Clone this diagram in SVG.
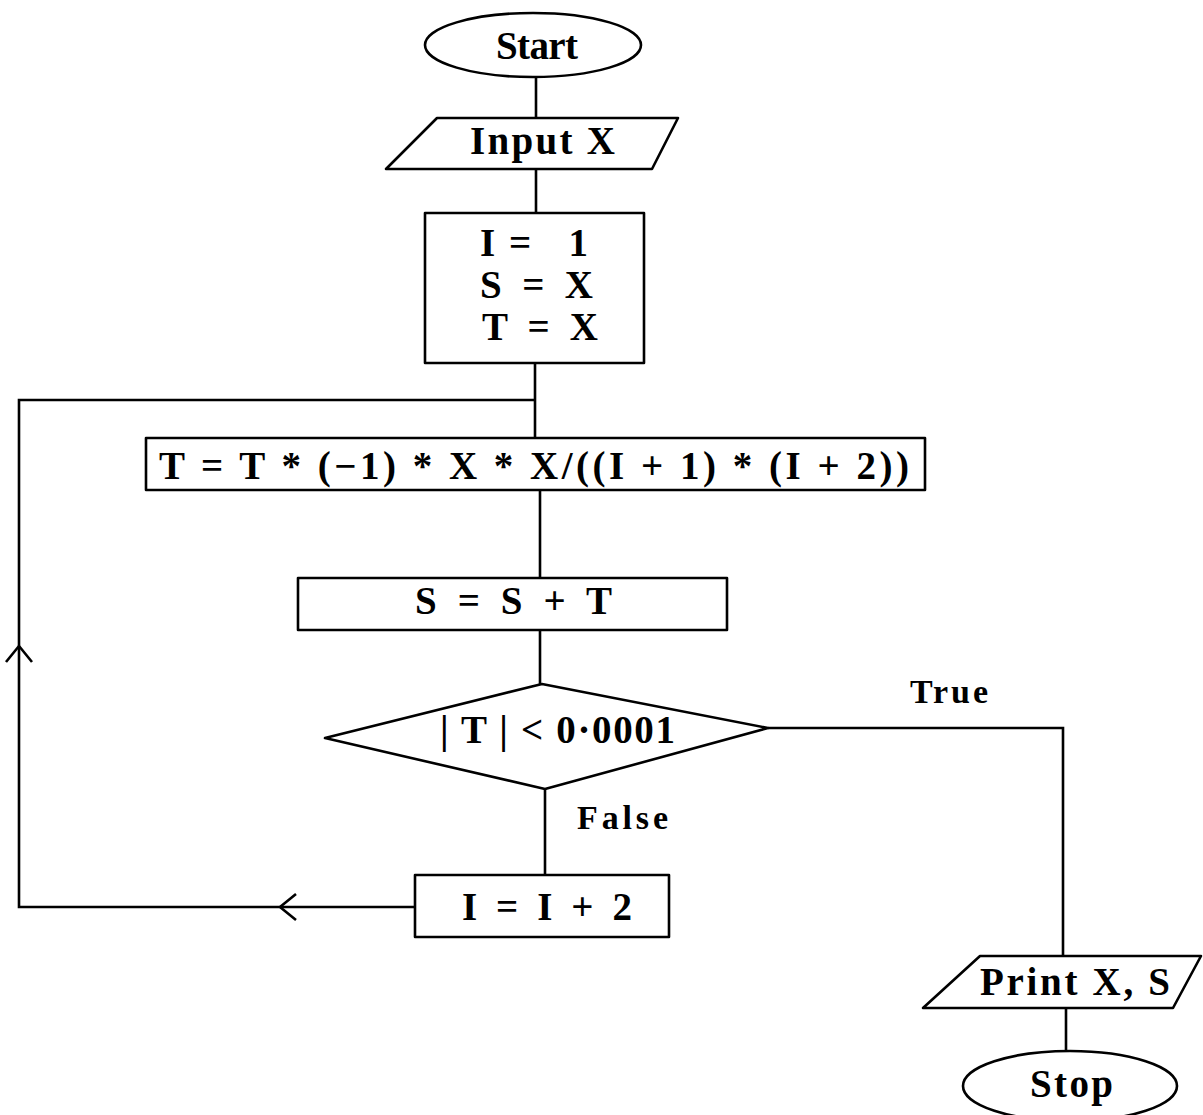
<svg xmlns="http://www.w3.org/2000/svg" width="1203" height="1115" viewBox="0 0 1203 1115">
<defs>
<style>
.s{fill:#fff;stroke:#000;stroke-width:2.6;stroke-linejoin:round}
.c{fill:none;stroke:#000;stroke-width:2.6}
.t{font-family:"Liberation Serif","Times New Roman",serif;font-weight:bold;font-size:39px;fill:#000}
.l{font-family:"Liberation Serif","Times New Roman",serif;font-weight:bold;font-size:34px;fill:#000}
</style>
<marker id="chev" markerUnits="userSpaceOnUse" markerWidth="20" markerHeight="28" refX="16" refY="13" orient="auto" overflow="visible">
<path d="M0,0 L16,13 L0,26" fill="none" stroke="#000" stroke-width="2.6"/>
</marker>
</defs>
<rect width="1203" height="1115" fill="#fff"/>
<g id="connectors">
<path class="c" d="M536,78 V118"/>
<path class="c" d="M536,169 V213"/>
<path class="c" d="M535,363 V438"/>
<path class="c" d="M540,490 V578"/>
<path class="c" d="M540,630 V684"/>
<path class="c" d="M545,789 V875"/>
<path class="c" d="M768,728 H1063 V956"/>
<path class="c" d="M1066,1008 V1050"/>
<path class="c" d="M415,907 H280" marker-end="url(#chev)"/>
<path class="c" d="M280,907 H19 V646" marker-end="url(#chev)"/>
<path class="c" d="M19,646 V400 H536"/>
</g>
<g id="start">
<ellipse class="s" cx="533" cy="45" rx="108" ry="32"/>
<text class="t" x="496" y="59" font-size="38" textLength="82" lengthAdjust="spacing">Start</text>
</g>
<g id="input">
<polygon class="s" points="437,118 678,118 652,169 386,169"/>
<text class="t" x="470" y="154" textLength="145" lengthAdjust="spacing">Input X</text>
</g>
<g id="init">
<rect class="s" x="425" y="213" width="219" height="150"/>
<text class="t" x="480" y="256" textLength="108" lengthAdjust="spacing" xml:space="preserve">I =   1</text>
<text class="t" x="480" y="298" textLength="113" lengthAdjust="spacing">S = X</text>
<text class="t" x="482" y="340" textLength="116" lengthAdjust="spacing">T = X</text>
</g>
<g id="update-t">
<rect class="s" x="146" y="438" width="779" height="52"/>
<text class="t" x="159" y="479" textLength="750" lengthAdjust="spacing">T = T * (−1) * X * X/((I + 1) * (I + 2))</text>
</g>
<g id="update-s">
<rect class="s" x="298" y="578" width="429" height="52"/>
<text class="t" x="415" y="614" textLength="197" lengthAdjust="spacing">S = S + T</text>
</g>
<g id="decision">
<polygon class="s" points="542,684 768,728 545,789 325,738"/>
<text class="t" x="440" y="743" textLength="235" lengthAdjust="spacing">| T | &lt; 0·0001</text>
</g>
<g id="increment">
<rect class="s" x="415" y="875" width="254" height="62"/>
<text class="t" x="462" y="920" textLength="170" lengthAdjust="spacing">I = I + 2</text>
</g>
<g id="print">
<polygon class="s" points="980,956 1201,956 1173,1008 923,1008"/>
<text class="t" x="980" y="995" textLength="190" lengthAdjust="spacing">Print X, S</text>
</g>
<g id="stop">
<ellipse class="s" cx="1070" cy="1086" rx="107" ry="35"/>
<text class="t" x="1030" y="1097" textLength="83" lengthAdjust="spacing">Stop</text>
</g>
<g id="labels">
<text class="l" x="910" y="703" textLength="78" lengthAdjust="spacing">True</text>
<text class="l" x="577" y="829" textLength="91" lengthAdjust="spacing">False</text>
</g>
</svg>
